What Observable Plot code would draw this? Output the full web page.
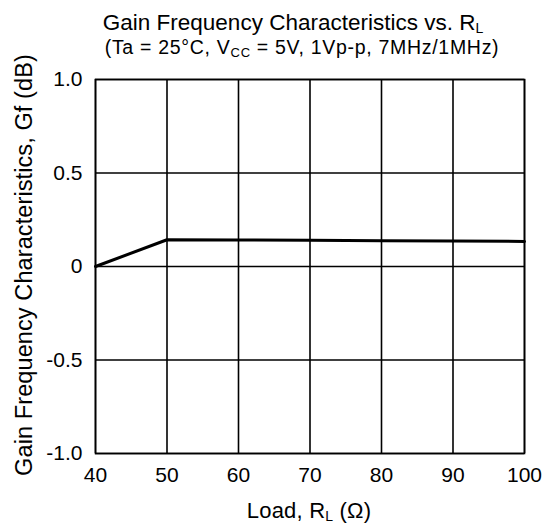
<!DOCTYPE html>
<html>
<head>
<meta charset="utf-8">
<script src="https://cdn.jsdelivr.net/npm/d3@7"></script>
<script src="https://cdn.jsdelivr.net/npm/@observablehq/plot@0.6"></script>
<style>
  html, body { margin: 0; padding: 0; background: #fff; }
  #chart svg { display: block; }
</style>
</head>
<body>
<div id="chart"></div>
<script>
const loads = [40, 50, 60, 70, 80, 90, 100];
const gain = [0, 0.143, 0.142, 0.140, 0.138, 0.136, 0.134];
const xTicks = [40, 50, 60, 70, 80, 90, 100];
const yTicks = [-1, -0.5, 0, 0.5, 1];
const yTickLabels = ["-1.0", "-0.5", "0", "0.5", "1.0"];

const data = loads.map((x, i) => ({load: x, gf: gain[i]}));
const FONT = "'Liberation Sans', Arial, Helvetica, sans-serif";

const chart = Plot.plot({
  width: 554,
  height: 525,
  marginLeft: 95,
  marginRight: 30,
  marginTop: 79,
  marginBottom: 72,
  style: {fontFamily: FONT, color: "#000", background: "#fff"},
  x: {domain: [40, 100], ticks: xTicks, label: null},
  y: {domain: [-1, 1], ticks: yTicks, label: null},
  marks: [
    Plot.gridX(xTicks, {stroke: "#000", strokeOpacity: 1, strokeWidth: 1.6}),
    Plot.gridY(yTicks, {stroke: "#000", strokeOpacity: 1, strokeWidth: 1.6}),
    Plot.frame({stroke: "#000", strokeWidth: 1.6}),
    Plot.line(data, {x: "load", y: "gf", stroke: "#000", strokeWidth: 3}),
    Plot.axisX(xTicks, {tickSize: 0, tickPadding: 14, fontSize: 21, label: null, tickFormat: d => String(d)}),
    Plot.axisY(yTicks, {tickSize: 0, tickPadding: 13, fontSize: 21, label: null,
      tickFormat: d => yTickLabels[yTicks.indexOf(d)]})
  ]
});

document.getElementById("chart").appendChild(chart);

const svg = d3.select(chart);
function addText(x, y, parts, size, spacing, rotate) {
  const t = svg.append("text")
    .attr("text-anchor", "middle")
    .attr("font-family", FONT)
    .attr("font-size", size)
    .attr("letter-spacing", spacing)
    .attr("fill", "#000")
    .attr("transform", rotate ? `translate(${x},${y}) rotate(-90)` : `translate(${x},${y})`);
  let shift = 0;
  parts.forEach(p => {
    if (typeof p === "string") {
      t.append("tspan").attr("dy", -shift).text(p);
      shift = 0;
    } else {
      t.append("tspan").attr("font-size", p.size).attr("dy", p.dy - shift).text(p.t);
      shift = p.dy;
    }
  });
}

addText(293, 30, ["Gain Frequency Characteristics vs. R", {t: "L", dy: 3, size: 14}], 22.5, 0);
addText(302, 54, ["(Ta = 25°C, V", {t: "CC", dy: 3, size: 13}, " = 5V, 1Vp-p, 7MHz/1MHz)"], 19.5, 0.7);
addText(309, 518, ["Load, R", {t: "L", dy: 3, size: 14}, " (Ω)"], 22, 0.2);
addText(32, 265, ["Gain Frequency Characteristics, Gf (dB)"], 23.5, 0.1, true);
</script>
</body>
</html>
